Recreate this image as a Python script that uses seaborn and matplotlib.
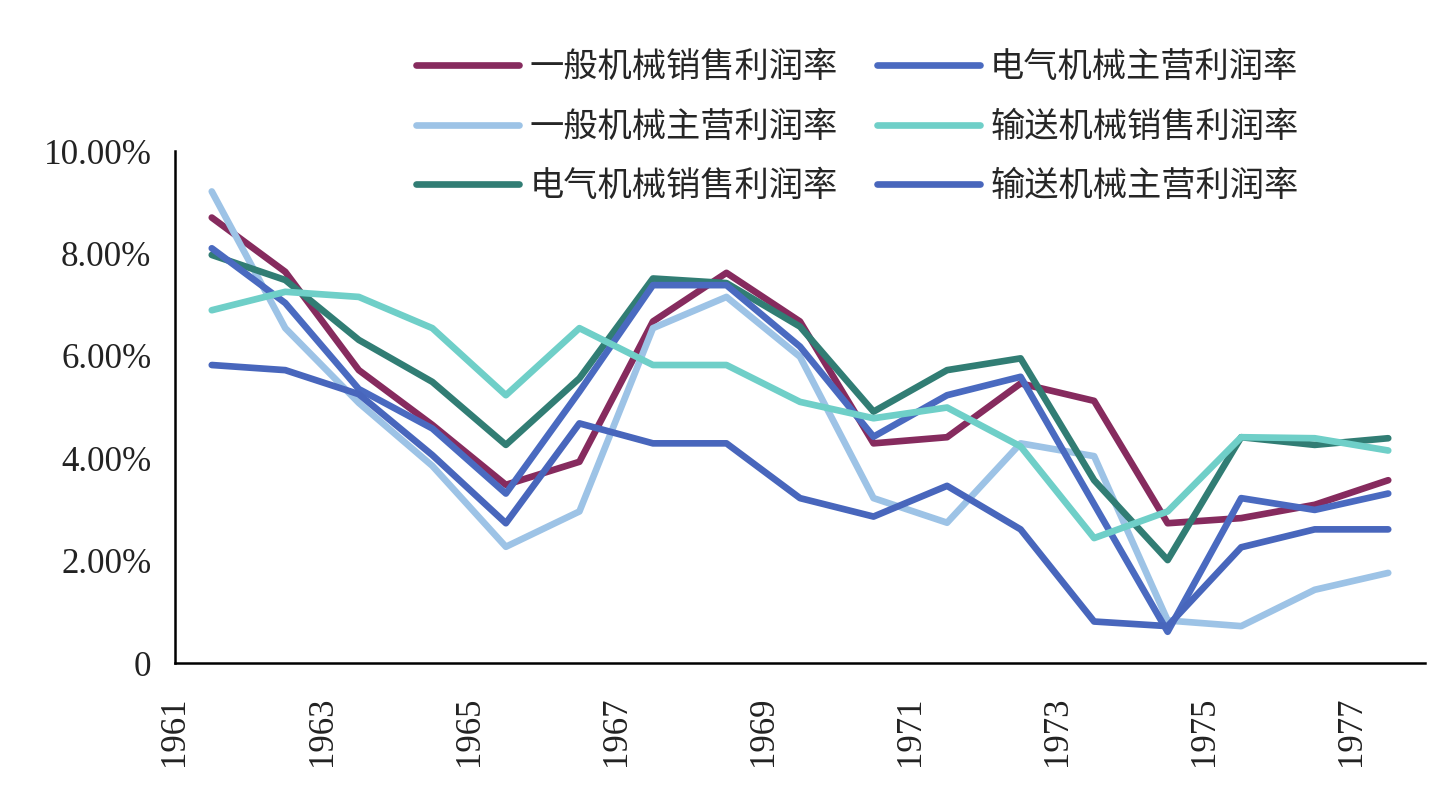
import numpy as np
import pandas as pd
import seaborn as sns
import matplotlib.pyplot as plt
from matplotlib.ticker import FuncFormatter

years = list(range(1961, 1978))

names = ['一般机械销售利润率', '一般机械主营利润率', '电气机械销售利润率',
         '电气机械主营利润率', '输送机械销售利润率', '输送机械主营利润率']

general_sales = [8.70, 7.64, 5.72, 4.65, 3.48, 3.93, 6.67, 7.62, 6.67, 4.29, 4.41, 5.46, 5.12, 2.73, 2.83, 3.09, 3.57]
general_main = [9.21, 6.54, 5.08, 3.85, 2.27, 2.96, 6.54, 7.15, 5.98, 3.22, 2.74, 4.29, 4.04, 0.83, 0.72, 1.43, 1.76]
electric_sales = [7.97, 7.48, 6.31, 5.49, 4.26, 5.56, 7.51, 7.42, 6.57, 4.91, 5.72, 5.95, 3.57, 2.01, 4.41, 4.26, 4.39]
electric_main = [8.10, 7.03, 5.35, 4.58, 3.31, 5.30, 7.38, 7.38, 6.18, 4.42, 5.23, 5.59, 3.10, 0.61, 3.22, 2.99, 3.31]
transport_sales = [6.89, 7.25, 7.15, 6.54, 5.23, 6.54, 5.82, 5.82, 5.10, 4.78, 4.99, 4.23, 2.44, 2.96, 4.41, 4.39, 4.15]
transport_main = [5.82, 5.72, 5.25, 4.06, 2.73, 4.68, 4.29, 4.29, 3.22, 2.86, 3.46, 2.61, 0.81, 0.72, 2.26, 2.61, 2.61]

series = [general_sales, general_main, electric_sales, electric_main, transport_sales, transport_main]
colors = ['#862B5E', '#9DC3E6', '#317D74', '#4A6AC0', '#6FCFC8', '#4866BC']

sns.set_theme(style='white')
plt.rcParams['font.family'] = ['Liberation Serif', 'Noto Sans CJK SC', 'DejaVu Sans']

fig = plt.figure(figsize=(14.55, 7.91), dpi=100)
ax = fig.add_axes([175 / 1455, 1 - 663 / 791, 1250 / 1455, 512 / 791])

for name, vals, c in zip(names, series, colors):
    df = pd.DataFrame({'pos': np.array(years) - years[0], 'val': vals})
    sns.lineplot(data=df, x='pos', y='val', ax=ax, color=c, lw=4.8,
                 label=name, sort=False, legend=False)

ax.set_xlim(-0.5, len(years) - 0.5)
ax.set_ylim(0, 10)
ax.set_xlabel('')
ax.set_ylabel('')

xt = np.arange(-0.5, len(years), 1)
ax.set_xticks(xt)
ax.set_xticklabels([str(years[0] + k) if k % 2 == 0 and k < len(years) else '' for k in range(len(xt))],
                   rotation=90, fontsize=25, family='Liberation Serif')
ax.set_yticks([0, 2, 4, 6, 8, 10])
ax.yaxis.set_major_formatter(FuncFormatter(lambda v, p: '0' if v == 0 else f'{v:.2f}%'))
for lab in ax.get_yticklabels():
    lab.set_family('Liberation Serif')
    lab.set_fontsize(25.2)
ax.tick_params(axis='y', direction='in', length=11, width=1.8, pad=17, colors='black', labelcolor='#222222')
ax.tick_params(axis='x', direction='in', length=8.5, width=1.8, pad=24, colors='black', labelcolor='#222222')

for s in ['top', 'right']:
    ax.spines[s].set_visible(False)
for s in ['left', 'bottom']:
    ax.spines[s].set_color('black')
    ax.spines[s].set_linewidth(1.8)

ax.legend(loc='upper left', bbox_to_anchor=(416 / 1455, 1 - 50 / 791), bbox_transform=fig.transFigure,
          ncol=2, frameon=False, borderpad=0, borderaxespad=0,
          prop={'family': ['Noto Sans CJK SC'], 'size': 24.7},
          handlelength=3.0, handletextpad=0.3, columnspacing=1.15, labelspacing=0.72)

fig.savefig('out.png', dpi=100, facecolor='white')
